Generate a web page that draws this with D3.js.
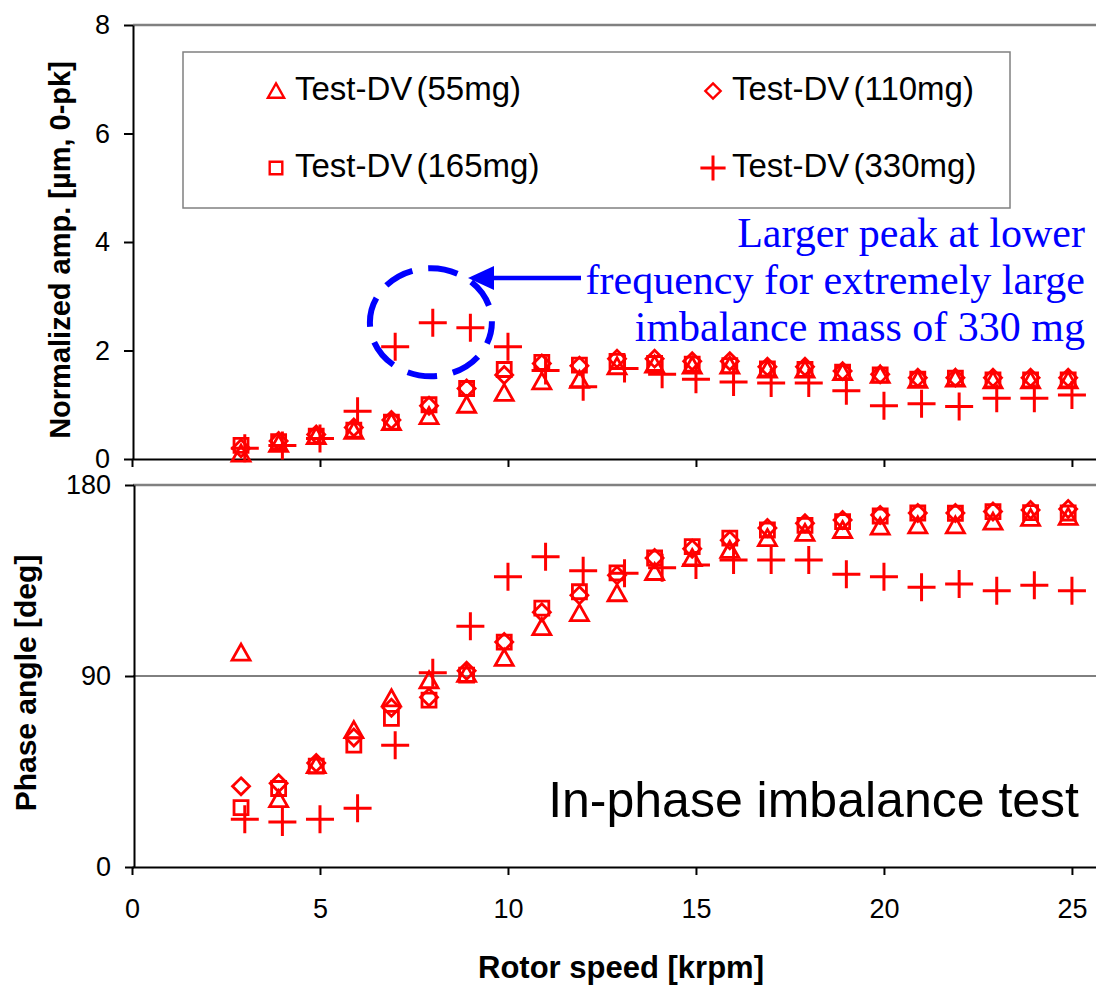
<!DOCTYPE html>
<html>
<head>
<meta charset="utf-8">
<style>
body { margin: 0; background: #fff; }
svg { display: block; }
.axis text { font-family: "Liberation Sans", Arial, sans-serif; font-size: 27px; fill: #000; }
.axis path, .axis line { stroke: #000; stroke-width: 2; }
</style>
</head>
<body>
<svg width="1096" height="985"></svg>
<script src="https://cdn.jsdelivr.net/npm/d3@7/dist/d3.min.js"></script>
<script>
// rotor speed [krpm] for each series
var speed55  = [2.9, 3.9, 4.9, 5.9, 6.9, 7.9, 8.9, 9.9, 10.9, 11.9, 12.9, 13.9, 14.9, 15.9, 16.9, 17.9, 18.9, 19.9, 20.9, 21.9, 22.9, 23.9, 24.9];
var speed110 = speed55, speed165 = speed55;
var speed330 = [3.0, 4.0, 5.0, 6.0, 7.0, 8.0, 9.0, 10.0, 11.0, 12.0, 13.1, 14.1, 15.0, 16.0, 17.0, 18.0, 19.0, 20.0, 21.0, 22.0, 23.0, 24.0, 25.0];

// normalized amplitude [um, 0-pk]
var amp55  = [0.10, 0.28, 0.42, 0.52, 0.68, 0.79, 1.00, 1.22, 1.43, 1.46, 1.71, 1.74, 1.72, 1.72, 1.65, 1.65, 1.60, 1.55, 1.46, 1.48, 1.45, 1.45, 1.45];
var amp110 = [0.20, 0.33, 0.45, 0.58, 0.72, 0.98, 1.30, 1.55, 1.76, 1.72, 1.85, 1.85, 1.80, 1.80, 1.70, 1.70, 1.62, 1.56, 1.50, 1.50, 1.50, 1.50, 1.50];
var amp165 = [0.25, 0.32, 0.42, 0.53, 0.68, 1.00, 1.30, 1.65, 1.78, 1.73, 1.80, 1.76, 1.75, 1.72, 1.66, 1.65, 1.60, 1.55, 1.47, 1.49, 1.46, 1.46, 1.46];
var amp330 = [0.20, 0.25, 0.38, 0.88, 2.07, 2.51, 2.42, 2.07, 1.63, 1.33, 1.67, 1.56, 1.47, 1.42, 1.40, 1.40, 1.26, 0.98, 1.02, 0.97, 1.12, 1.12, 1.18];

// phase angle [deg]
var ph55  = [101, 32, 48, 64.5, 79.5, 88, 91, 98.5, 113, 119.6, 129, 139, 145.6, 149.4, 155, 157.4, 158.8, 160.4, 161, 161, 162.7, 164.5, 165];
var ph110 = [38, 39.5, 49, 61, 75, 80, 92.5, 106, 120, 128, 137.5, 145.6, 150, 154, 159.7, 162, 163.5, 165.9, 166.8, 166.8, 167.5, 168.2, 168.7];
var ph165 = [28, 37, 47.5, 57.4, 70, 78.6, 90.4, 106, 122, 129.7, 138.6, 145.6, 151, 155, 158.8, 161, 162.7, 165.4, 166.8, 166.7, 167.5, 167, 166.8];
var ph330 = [22.5, 21.2, 22.5, 27.7, 57.4, 91.5, 113.5, 136.8, 146.2, 139.6, 138.4, 141, 142.3, 144.7, 144.7, 144.7, 138, 136.8, 131.8, 133.3, 130.2, 132.8, 130.2];

var seriesNames = ["Test-DV (55mg)", "Test-DV (110mg)", "Test-DV (165mg)", "Test-DV (330mg)"];
var xTicks = [0, 5, 10, 15, 20, 25];
var ampTicks = [0, 2, 4, 6, 8];
var phTicks = [0, 90, 180];

var svg = d3.select("svg"),
    red = "#ff0000",
    blue = "#0000ff";

var x = d3.scaleLinear().domain([0, 25.64]).range([132, 1096]);
var yAmp = d3.scaleLinear().domain([0, 8]).range([459, 25]);
var yPh = d3.scaleLinear().domain([0, 180]).range([867, 485]);

// marker shapes (centred on 0,0)
function marker(kind, s) {
  s = s || 1;
  if (kind == "tri") return "M0," + (-8.5*s) + "L" + (9*s) + "," + (7.5*s) + "L" + (-9*s) + "," + (7.5*s) + "Z";
  if (kind == "dia") return "M0," + (-8.5*s) + "L" + (8.5*s) + ",0L0," + (8.5*s) + "L" + (-8.5*s) + ",0Z";
  if (kind == "sq")  return "M" + (-7*s) + "," + (-7*s) + "h" + (14*s) + "v" + (14*s) + "h" + (-14*s) + "Z";
  return "M" + (-14*s) + ",0H" + (14*s) + "M0," + (-14*s) + "V" + (14*s);
}
var kinds = ["tri", "dia", "sq", "plus"];

// ---- frames
svg.append("line").attr("x1", 133).attr("x2", 1096).attr("y1", 25).attr("y2", 25)
  .attr("stroke", "#808080").attr("stroke-width", 2.5);
svg.append("line").attr("x1", 133).attr("x2", 1096).attr("y1", 485).attr("y2", 485)
  .attr("stroke", "#808080").attr("stroke-width", 2.5);
svg.append("line").attr("x1", 133).attr("x2", 1096).attr("y1", yPh(90)).attr("y2", yPh(90))
  .attr("stroke", "#000").attr("stroke-width", 1);

// ---- axes
svg.append("g").attr("class", "axis")
  .attr("transform", "translate(0," + yAmp(0) + ")")
  .call(d3.axisBottom(x).tickValues(xTicks).tickFormat("").tickSize(8).tickSizeOuter(0));
svg.append("g").attr("class", "axis")
  .attr("transform", "translate(0," + yPh(0) + ")")
  .call(d3.axisBottom(x).tickValues(xTicks).tickFormat(d3.format("d")).tickSize(8).tickPadding(24).tickSizeOuter(0));
svg.append("g").attr("class", "axis")
  .attr("transform", "translate(133,0)")
  .call(d3.axisLeft(yAmp).tickValues(ampTicks).tickSize(9).tickPadding(14).tickSizeOuter(0));
svg.append("g").attr("class", "axis")
  .attr("transform", "translate(134,0)")
  .call(d3.axisLeft(yPh).tickValues(phTicks).tickSize(9).tickPadding(14).tickSizeOuter(0));

// axis titles
svg.append("text")
  .attr("transform", "translate(70,250) rotate(-90)")
  .attr("text-anchor", "middle")
  .style("font-family", "'Liberation Sans', Arial, sans-serif")
  .style("font-weight", "bold").style("font-size", "29px")
  .text("Normalized amp. [µm, 0-pk]");
svg.append("text")
  .attr("transform", "translate(36,683) rotate(-90)")
  .attr("text-anchor", "middle")
  .style("font-family", "'Liberation Sans', Arial, sans-serif")
  .style("font-weight", "bold").style("font-size", "30px")
  .text("Phase angle [deg]");
svg.append("text")
  .attr("x", 621).attr("y", 978)
  .attr("text-anchor", "middle")
  .style("font-family", "'Liberation Sans', Arial, sans-serif")
  .style("font-weight", "bold").style("font-size", "31px")
  .text("Rotor speed [krpm]");

// ---- data points
var ampSeries = [
  {k: 0, xs: speed55, ys: amp55},
  {k: 1, xs: speed110, ys: amp110},
  {k: 2, xs: speed165, ys: amp165},
  {k: 3, xs: speed330, ys: amp330}
];
var phSeries = [
  {k: 0, xs: speed55, ys: ph55},
  {k: 1, xs: speed110, ys: ph110},
  {k: 2, xs: speed165, ys: ph165},
  {k: 3, xs: speed330, ys: ph330}
];

function drawPanel(series, y) {
  series.forEach(function(s) {
    svg.append("g").selectAll("path")
      .data(s.ys.map(function(v, i) { return [s.xs[i], v]; }))
      .enter().append("path")
        .attr("transform", function(d) { return "translate(" + x(d[0]) + "," + y(d[1]) + ")"; })
        .attr("d", marker(kinds[s.k]))
        .attr("fill", "none")
        .attr("stroke", red)
        .attr("stroke-width", s.k == 3 ? 3 : 2.8);
  });
}
drawPanel(ampSeries, yAmp);
drawPanel(phSeries, yPh);

// ---- legend
svg.append("rect").attr("x", 183).attr("y", 52).attr("width", 827).attr("height", 156)
  .attr("fill", "#fff").attr("stroke", "#808080").attr("stroke-width", 1.5);
var legPos = [[276, 91], [713, 91], [276, 168], [713, 168]];
seriesNames.forEach(function(name, i) {
  var g = svg.append("g").attr("transform", "translate(" + legPos[i][0] + "," + legPos[i][1] + ")");
  g.append("path").attr("d", marker(kinds[i], 0.9))
    .attr("fill", "none").attr("stroke", red).attr("stroke-width", i == 3 ? 3 : 2.4);
  g.append("text").attr("x", 19).attr("y", 9)
    .style("font-family", "'Liberation Sans', Arial, sans-serif")
    .style("font-size", "33px")
    .style("word-spacing", "-5px")
    .text(name);
});

// ---- annotation
svg.append("ellipse")
  .attr("cx", x(7.95)).attr("cy", yAmp(2.52))
  .attr("rx", 61).attr("ry", 54)
  .attr("fill", "none").attr("stroke", blue).attr("stroke-width", 6)
  .attr("stroke-dasharray", "30,16").attr("stroke-dashoffset", 8);
svg.append("line").attr("x1", 581).attr("x2", 490).attr("y1", 278).attr("y2", 278)
  .attr("stroke", blue).attr("stroke-width", 4.5);
svg.append("path").attr("d", "M468,278L494,266L494,290Z").attr("fill", blue);

var noteLines = ["Larger peak at lower", "frequency for extremely large", "imbalance mass of 330 mg"];
svg.append("g").selectAll("text").data(noteLines).enter().append("text")
  .attr("x", 1085).attr("y", function(d, i) { return 247 + i * 47; })
  .attr("text-anchor", "end")
  .style("font-family", "'Liberation Serif', 'Times New Roman', serif")
  .style("font-size", "42px").attr("fill", blue)
  .text(function(d) { return d; });

svg.append("text").attr("x", 1079).attr("y", 817)
  .attr("text-anchor", "end")
  .style("font-family", "'Liberation Sans', Arial, sans-serif")
  .style("font-size", "50px")
  .text("In-phase imbalance test");
</script>
</body>
</html>
